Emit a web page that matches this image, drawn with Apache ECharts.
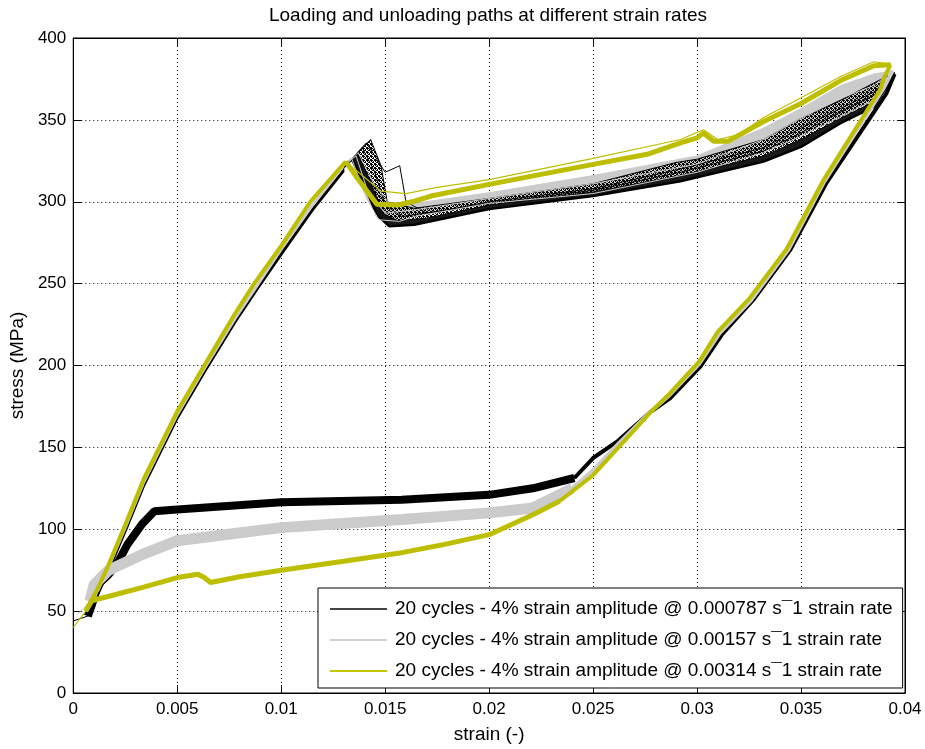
<!DOCTYPE html>
<html>
<head>
<meta charset="utf-8">
<script src="https://cdn.jsdelivr.net/npm/echarts@6/dist/echarts.min.js"></script>
<style>html,body{margin:0;padding:0;background:#fff;}#c{width:925px;height:749px;}</style>
</head>
<body>
<div id="c"></div>
<script>
// ---------- tick labels ----------
var xTickLabels = ['0','0.005','0.01','0.015','0.02','0.025','0.03','0.035','0.04'];
var yTickLabels = ['0','50','100','150','200','250','300','350','400'];
var legendNames = [
  '20 cycles - 4% strain amplitude @ 0.000787 s\u00AF1 strain rate',
  '20 cycles - 4% strain amplitude @ 0.00157 s\u00AF1 strain rate',
  '20 cycles - 4% strain amplitude @ 0.00314 s\u00AF1 strain rate'
];

// ---------- black: 0.000787 1/s ----------
var bStart = [[0.0000,44]];
var bLoad = [[0.0007,47],[0.0012,61],[0.0017,75],[0.0025,99],[0.0034,127],[0.0050,168],[0.0063,196],[0.0078,227],[0.0088,246],[0.0100,268],[0.0115,295],[0.0130,319]];
var bUpper1 = [[0.0130,321],[0.0134,326],[0.0140,310],[0.0146,292],[0.0152,285],[0.0164,286],[0.0200,295.5],[0.0250,303.5],[0.0292,312.5],[0.0332,324.5],[0.0350,333.5],[0.0369,348],[0.0385,358],[0.0393,374],[0.0395,378]];
var bUpper2 = [[0.0130,321],[0.0137,329],[0.0143,312],[0.0149,293],[0.0156,288.5],[0.0170,290],[0.0200,298],[0.0250,306],[0.0292,316],[0.0332,328],[0.0350,338],[0.0369,351],[0.0385,361],[0.0395,378]];
var bUpper3 = [[0.0130,321],[0.0139,333],[0.0145,318],[0.0150,298],[0.0158,291],[0.0180,295],[0.0200,300],[0.0250,308],[0.0292,320],[0.0332,333],[0.0350,345],[0.0369,357],[0.0385,367],[0.0395,378]];
var bUpper4 = [[0.0130,321],[0.0143,338],[0.0148,322],[0.0151,300],[0.0164,296],[0.0200,302],[0.0250,311],[0.0290,324],[0.0300,326],[0.0332,338],[0.0350,351],[0.0369,362],[0.0385,372.5],[0.0395,379]];
var bUpper5 = [[0.0130,321],[0.0141,336],[0.0150,318],[0.0157,322],[0.0160,300],[0.0170,293],[0.0200,299],[0.0250,307],[0.0292,318],[0.0332,331],[0.0350,342],[0.0369,355],[0.0385,365],[0.0395,378]];
var bUnload = [[0.0395,378],[0.0391,366],[0.0362,311],[0.0345,271],[0.0327,240],[0.0312,219],[0.0302,200],[0.0287,180],[0.0278,172],[0.0262,154],[0.0250,143.5],[0.0241,131.3]];
var bLower = [[0.0241,131.3],[0.0221,125],[0.0200,121],[0.0158,118],[0.0100,116.5],[0.0050,112],[0.0039,111],[0.0033,103],[0.0026,90.6],[0.0022,81],[0.0017,72.3],[0.0012,66.3],[0.0009,54],[0.0007,47]];

// ---------- gray: 0.00157 1/s ----------
var gStart = [[0.0002,48]];
var gLoad = [[0.0008,56],[0.0012,63],[0.0017,77],[0.0025,101],[0.0034,129],[0.0050,170],[0.0063,198],[0.0078,229],[0.0088,248],[0.0100,271],[0.0115,298],[0.0130,322]];
var gUpper1 = [[0.0130,322],[0.0134,326],[0.0141,302],[0.0147,289],[0.0157,288],[0.0164,291],[0.0200,299],[0.0250,305],[0.0300,318],[0.0332,330],[0.0350,340],[0.0369,352],[0.0385,362],[0.0394,379]];
var gUpper2 = [[0.0130,322],[0.0136,328],[0.0142,305],[0.0150,293],[0.0164,295],[0.0200,302],[0.0250,311],[0.0300,323],[0.0332,338],[0.0350,351],[0.0369,363],[0.0385,371],[0.0394,380]];
var gUpper3 = [[0.0130,322],[0.0137,330],[0.0145,310],[0.0152,299],[0.0164,299],[0.0200,305.5],[0.0250,316],[0.0300,328],[0.0332,345],[0.0350,357],[0.0369,371],[0.0385,378],[0.0394,380]];
var gUnload = [[0.0394,380],[0.0390,370],[0.0361,312],[0.0344,271],[0.0326,240],[0.0311,220],[0.0301,201],[0.0286,181],[0.0277,171],[0.0262,152],[0.0250,136],[0.0240,125]];
var gLower = [[0.0240,125],[0.0221,113],[0.0200,110],[0.0158,106],[0.0100,101],[0.0050,93],[0.0033,84.5],[0.0017,75],[0.0010,66],[0.0008,56]];

// ---------- yellow: 0.00314 1/s ----------
var yStart = [[0.0000,40]];
var yLoad = [[0.0006,50],[0.0012,64.4],[0.0017,78.4],[0.0025,102.7],[0.0034,131],[0.0050,172],[0.0063,200],[0.0077,230],[0.0087,250],[0.0100,273],[0.0114,300],[0.0131,324.5]];
var yUpperA = [[0.0131,324.5],[0.0138,312],[0.0146,298.5],[0.0156,298],[0.0164,300.3],[0.0172,303.5],[0.0200,310.6],[0.0250,322.8],[0.0276,329],[0.0292,336],[0.0300,339],[0.0303,342],[0.0308,337],[0.0315,337],[0.0332,349],[0.0350,360],[0.0369,374],[0.0385,383],[0.0393,383.6]];
var yUpperB = [[0.0131,324.5],[0.0140,315],[0.0148,306.5],[0.0160,305],[0.0175,308.8],[0.0200,313.5],[0.0250,326.5],[0.0292,338],[0.0303,344],[0.0310,338],[0.0320,341],[0.0332,351.4],[0.0350,363.5],[0.0369,376.5],[0.0385,385.5],[0.0393,384]];
var yUnload = [[0.0393,383.6],[0.0390,376],[0.0388,368.4],[0.0361,313.7],[0.0343,271],[0.0325,240.7],[0.0310,220.7],[0.0301,202.4],[0.0286,181.8],[0.0278,172],[0.0250,133],[0.0234,117.3]];
var yLower = [[0.0234,117.3],[0.0221,108.8],[0.0200,96.7],[0.0178,90.6],[0.0158,85.7],[0.0130,80.5],[0.0100,75],[0.0080,71],[0.0074,69.5],[0.0066,67.5],[0.0063,70.5],[0.0060,72.5],[0.0050,70.5],[0.0033,64.4],[0.0020,60],[0.0009,56.5],[0.0006,50]];

// ---------- build ----------
var FONT = 'Liberation Sans, Arial, Helvetica, sans-serif';
var BLACK = '#000000', GRAY = '#cbcbcb', YELLOW = '#bebe00';
var legendColors = ['#444444', '#d0d0d0', '#c4c400'];

// speckle texture for the sparse part of the black band
var pc = document.createElement('canvas'); pc.width = 4; pc.height = 4;
var pctx = pc.getContext('2d'); pctx.fillStyle = '#000';
[[0,0],[2,0],[1,1],[3,1],[0,2],[1,2],[2,3],[3,3],[3,0]].forEach(function(p){ pctx.fillRect(p[0], p[1], 1, 1); });
var speckle = {image: pc, repeat: 'repeat'};

function cyc(start, load, upper, unload, lower) {
  return [].concat(start, load, upper, unload, lower);
}
function lineS(name, data, color, width, z) {
  return {type:'line', name:name, data:data, showSymbol:false, symbol:'none', silent:true,
    color:color, itemStyle:{color:color}, lineStyle:{color:color, width:width}, z:z, animation:false, clip:true};
}
function bandS(name, low, high, fill, z) {
  return {type:'custom', name:name, silent:true, z:z, animation:false, clip:true,
    data:[[low[0][0], low[0][1]]],
    renderItem:function(params, api){
      var pts = [];
      for (var i=0;i<low.length;i++) pts.push(api.coord(low[i]));
      for (var j=high.length-1;j>=0;j--) pts.push(api.coord(high[j]));
      return {type:'polygon', shape:{points:pts}, style:{fill:fill}};
    }};
}

var series = [];
// gray band behind black
series.push(bandS('gband', gUpper1, gUpper3, GRAY, 1));
// black
series.push(bandS('bband-dense', bUpper1, bUpper2, 'rgba(0,0,0,0.9)', 2));
series.push(bandS('bband-sparse', bUpper2, bUpper4, speckle, 2));
[bUpper1,bUpper2,bUpper3,bUpper4,bUpper5].forEach(function(u,i){
  series.push(lineS(legendNames[0], cyc(i===0?bStart:[], bLoad, u, bUnload, bLower), BLACK, 1, 2));
});
series.push(lineS('b-upper', bUpper1, BLACK, 2.5, 2));
series.push(lineS('b-load', bLoad, BLACK, 3, 2));
series.push(lineS('b-unload', bUnload, BLACK, 4, 2));
series.push(lineS('b-lower', bLower, BLACK, 8, 2));
// gray
[gUpper1,gUpper2,gUpper3].forEach(function(u,i){
  series.push(lineS(legendNames[1], cyc(i===0?gStart:[], gLoad, u, gUnload, gLower), GRAY, 1, 3));
});
series.push(lineS('g-load', gLoad, GRAY, 3, 3));
series.push(lineS('g-unload', gUnload, GRAY, 4, 3));
series.push(lineS('g-lower', gLower, GRAY, 11, 3));
// yellow
[yUpperA,yUpperB].forEach(function(u,i){
  series.push(lineS(legendNames[2], cyc(i===0?yStart:[], yLoad, u, yUnload, yLower), YELLOW, 1.2, 6));
});
series.push(lineS('y-load', yLoad, YELLOW, 4, 6));
series.push(lineS('y-upper', yUpperA, YELLOW, 5, 6));
series.push(lineS('y-unload', yUnload, YELLOW, 4, 6));
series.push(lineS('y-lower', yLower, YELLOW, 5, 6));

var gridLine = {show:true, lineStyle:{color:'#000', width:1, type:[1,3]}};
var axisBase = {
  type:'value', axisLine:{show:true, onZero:false, lineStyle:{color:'#000', width:1}},
  axisTick:{show:true, inside:true, length:8, lineStyle:{color:'#000'}}
};
function ext(o, p){ var r={}; for (var k in o) r[k]=o[k]; for (var k2 in p) r[k2]=p[k2]; return r; }

var option = {
  animation:false,
  backgroundColor:'#fff',
  textStyle:{fontFamily:FONT},
  title:{text:'Loading and unloading paths at different strain rates', left:483, top:1, textAlign:'center',
    textStyle:{fontSize:19, fontWeight:'normal', color:'#000', fontFamily:FONT}},
  grid:{left:72, right:20, top:38, bottom:53, show:true, borderColor:'#000', borderWidth:1, containLabel:false},
  legend:{
    data:legendNames.map(function(n, i){return {name:n, icon:'rect',
      itemStyle:{color:legendColors[i], borderWidth:0, borderColor:legendColors[i], opacity:1}};}),
    orient:'vertical', left:318, top:588,
    itemWidth:57, itemHeight:2, itemGap:11,
    padding:[11,10,7,12],
    borderColor:'#000', borderWidth:1, backgroundColor:'#fff',
    selectedMode:false,
    textStyle:{fontSize:19, lineHeight:20, color:'#000', fontFamily:FONT, padding:[0,0,0,3]}
  },
  xAxis:[
    ext(axisBase, {min:0, max:0.04, interval:0.005, position:'bottom',
      name:'strain (-)', nameLocation:'middle', nameGap:32,
      nameTextStyle:{fontSize:19, color:'#000', fontFamily:FONT},
      axisLabel:{margin:8, fontSize:17, color:'#000', fontFamily:FONT,
        formatter:function(v){return xTickLabels[Math.round(v/0.005)];}},
      splitLine:gridLine}),
    ext(axisBase, {min:0, max:0.04, interval:0.005, position:'top', axisLabel:{show:false}, splitLine:{show:false}})
  ],
  yAxis:[
    ext(axisBase, {min:0, max:400, interval:50, position:'left',
      name:'stress (MPa)', nameLocation:'middle', nameGap:44,
      nameTextStyle:{fontSize:19, color:'#000', fontFamily:FONT},
      axisLabel:{margin:7, fontSize:17, color:'#000', fontFamily:FONT,
        formatter:function(v){return yTickLabels[Math.round(v/50)];}},
      splitLine:gridLine}),
    ext(axisBase, {min:0, max:400, interval:50, position:'right', axisLabel:{show:false}, splitLine:{show:false}})
  ],
  series:series
};
var chart = echarts.init(document.getElementById('c'), null, {renderer:'canvas'});
chart.setOption(option);
</script>
</body>
</html>
